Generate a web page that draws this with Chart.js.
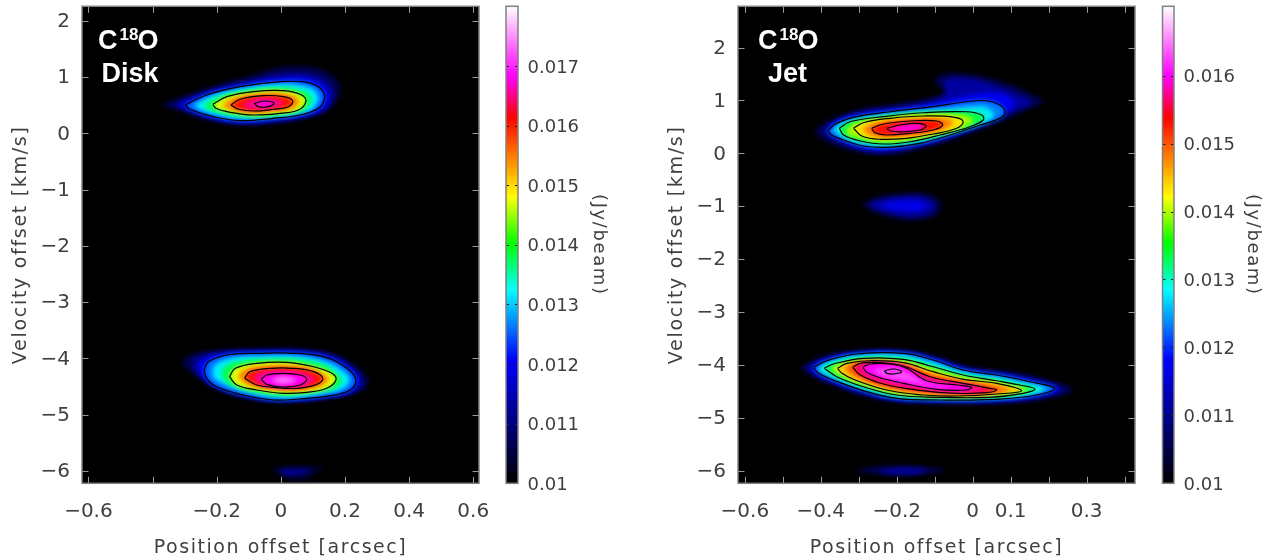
<!DOCTYPE html>
<html><head><meta charset="utf-8">
<script src="https://cdn.jsdelivr.net/npm/chart.js@4/dist/chart.umd.js"></script>
<style>html,body{margin:0;padding:0;background:#fff;overflow:hidden}canvas{position:absolute;top:0}</style>
</head><body>
<canvas id="pvDisk" style="left:0"></canvas>
<canvas id="barDisk" style="left:495px"></canvas>
<canvas id="pvJet" style="left:656px"></canvas>
<canvas id="barJet" style="left:1152px"></canvas>
<script>
// ---- axes
const diskXTicks=[-0.6,-0.4,-0.2,0,0.2,0.4,0.6];
const diskXLabels=['\u22120.6','','\u22120.2','0','0.2','0.4','0.6'];
const jetXTicks=[-0.6,-0.5,-0.4,-0.3,-0.2,-0.1,0,0.1,0.2,0.3,0.4];
const jetXLabels=['\u22120.6','','\u22120.4','','\u22120.2','','0','0.1','','0.3',''];
const velTicks=[2,1,0,-1,-2,-3,-4,-5,-6];
const velLabels=['2','1','0','\u22121','\u22122','\u22123','\u22124','\u22125','\u22126'];
const diskBarTicks=[0.01,0.011,0.012,0.013,0.014,0.015,0.016,0.017];
const diskBarLabels=['0.01','0.011','0.012','0.013','0.014','0.015','0.016','0.017'];
const jetBarTicks=[0.01,0.011,0.012,0.013,0.014,0.015,0.016];
const jetBarLabels=['0.01','0.011','0.012','0.013','0.014','0.015','0.016'];

// ---- iso-intensity outlines, [position offset, velocity offset], outermost first
const diskUpper=[
[[-.376,.507],[-.231,.804],[-.085,1.041],[.008,1.178],[.112,1.160],[.175,.952],[.182,.715],[.154,.448],[.081,.270],[-.023,.169],[-.127,.151],[-.231,.240],[-.324,.418]],
[[-.340,.507],[-.231,.744],[-.085,.952],[.008,1.059],[.102,1.041],[.154,.863],[.164,.655],[.138,.418],[.070,.299],[-.023,.217],[-.127,.187],[-.220,.270],[-.304,.431]],
[[-.320,.507],[-.231,.712],[-.105,.890],[.004,.988],[.091,.970],[.138,.827],[.150,.640],[.129,.436],[.066,.311],[-.024,.240],[-.127,.205],[-.214,.285],[-.292,.436]],
[[-.298,.507],[-.231,.685],[-.127,.833],[-.002,.922],[.081,.911],[.123,.804],[.136,.626],[.117,.448],[.060,.329],[-.024,.270],[-.127,.228],[-.211,.299],[-.283,.431]],
[[-.270,.514],[-.211,.676],[-.111,.804],[.001,.875],[.076,.838],[.107,.749],[.116,.607],[.098,.436],[.057,.356],[-.018,.294],[-.111,.262],[-.189,.324],[-.255,.436]],
[[-.242,.516],[-.189,.667],[-.099,.774],[.004,.819],[.070,.765],[.091,.685],[.098,.587],[.076,.427],[.055,.383],[-.012,.320],[-.099,.294],[-.174,.347],[-.230,.440]],
[[-.212,.520],[-.168,.655],[-.085,.744],[.008,.762],[.065,.685],[.078,.566],[.055,.418],[-.002,.359],[-.085,.329],[-.158,.377],[-.202,.448]],
[[-.183,.512],[-.149,.632],[-.071,.708],[.007,.712],[.051,.635],[.057,.525],[.029,.427],[-.015,.395],[-.086,.365],[-.146,.404],[-.171,.448]],
[[-.156,.507],[-.127,.609],[-.054,.673],[.008,.655],[.037,.584],[.024,.477],[-.023,.431],[-.085,.400],[-.132,.431]],
[[-.121,.516],[-.089,.596],[-.052,.625],[-.005,.596],[.007,.543],[-.008,.472],[-.046,.454],[-.080,.436],[-.105,.454]],
[[-.083,.537],[-.049,.578],[-.021,.537],[-.039,.477],[-.070,.477]]
];
const diskLower=[
[[-.309,-4.089],[-.283,-3.941],[-.200,-3.852],[-.075,-3.822],[.081,-3.834],[.175,-3.941],[.237,-4.149],[.273,-4.416],[.247,-4.594],[.154,-4.712],[.008,-4.772],[-.117,-4.712],[-.210,-4.505],[-.272,-4.297]],
[[-.277,-4.119],[-.262,-3.989],[-.189,-3.893],[-.075,-3.865],[.065,-3.870],[.159,-3.959],[.221,-4.160],[.256,-4.404],[.232,-4.578],[.154,-4.689],[.029,-4.760],[-.096,-4.701],[-.205,-4.505],[-.257,-4.285]],
[[-.258,-4.164],[-.244,-4.025],[-.180,-3.918],[-.075,-3.888],[.057,-3.891],[.151,-3.973],[.213,-4.169],[.244,-4.395],[.224,-4.573],[.154,-4.677],[.045,-4.742],[-.033,-4.733],[-.203,-4.505],[-.245,-4.320]],
[[-.239,-4.208],[-.226,-4.060],[-.168,-3.941],[-.075,-3.911],[.050,-3.911],[.143,-3.989],[.206,-4.178],[.234,-4.386],[.216,-4.564],[.154,-4.665],[.060,-4.724],[-.023,-4.742],[-.117,-4.653],[-.200,-4.505],[-.231,-4.356]],
[[-.214,-4.244],[-.202,-4.100],[-.149,-3.993],[-.074,-3.968],[.038,-3.964],[.129,-4.048],[.191,-4.217],[.214,-4.386],[.191,-4.546],[.138,-4.617],[.066,-4.680],[-.008,-4.698],[-.102,-4.609],[-.177,-4.458],[-.208,-4.350]],
[[-.186,-4.297],[-.174,-4.137],[-.118,-4.039],[-.027,-4.009],[.060,-4.021],[.141,-4.128],[.179,-4.297],[.193,-4.386],[.169,-4.537],[.107,-4.608],[.048,-4.653],[-.002,-4.662],[-.089,-4.591],[-.158,-4.475],[-.180,-4.368]],
[[-.160,-4.327],[-.142,-4.178],[-.075,-4.089],[.019,-4.071],[.102,-4.150],[.159,-4.267],[.172,-4.386],[.143,-4.534],[.081,-4.605],[.008,-4.623],[-.075,-4.564],[-.137,-4.475]],
[[-.136,-4.342],[-.119,-4.208],[-.055,-4.134],[.029,-4.125],[.101,-4.190],[.144,-4.315],[.151,-4.368],[.127,-4.498],[.065,-4.569],[-.008,-4.569],[-.075,-4.520],[-.106,-4.475]],
[[-.113,-4.356],[-.096,-4.238],[-.033,-4.178],[.039,-4.178],[.102,-4.238],[.131,-4.356],[.112,-4.463],[.050,-4.534],[-.023,-4.516],[-.075,-4.475]],
[[-.087,-4.365],[-.071,-4.267],[-.012,-4.222],[.050,-4.238],[.091,-4.302],[.106,-4.365],[.086,-4.470],[.055,-4.511],[-.007,-4.514],[-.059,-4.475]],
[[-.061,-4.374],[-.044,-4.297],[.008,-4.267],[.060,-4.297],[.081,-4.374],[.060,-4.475],[.008,-4.511],[-.044,-4.463]],
[[-.033,-4.386],[.007,-4.324],[.048,-4.386],[.007,-4.457]]
];
const diskFaint=[
[[-.039,-5.957],[.008,-5.916],[.060,-5.904],[.138,-5.957],[.102,-6.076],[.081,-6.178],[.029,-6.165],[-.002,-6.076]],
[[-.012,-5.989],[.045,-5.961],[.098,-5.989],[.060,-6.076],[.013,-6.076]]
];
const jetUpper=[
[[-.419,.427],[-.384,.597],[-.305,.819],[-.191,.945],[-.104,1.070],[-.077,1.164],[-.099,1.354],[-.077,1.499],[.002,1.482],[.090,1.323],[.159,1.102],[.186,.975],[.142,.819],[.072,.597],[-.016,.346],[-.121,.113],[-.235,-.032],[-.323,.062],[-.393,.251]],
[[-.397,.427],[-.367,.597],[-.301,.767],[-.191,.880],[-.104,.994],[-.069,1.134],[-.077,1.323],[-.060,1.418],[.002,1.399],[.072,1.248],[.133,1.070],[.155,.957],[.116,.819],[.063,.643],[-.016,.408],[-.121,.176],[-.235,.019],[-.309,.095],[-.375,.284]],
[[-.386,.427],[-.362,.586],[-.301,.737],[-.191,.837],[-.104,.945],[-.033,1.059],[.019,1.134],[.072,1.134],[.107,1.008],[.107,.881],[.072,.724],[-.016,.454],[-.121,.200],[-.231,.062],[-.296,.113],[-.358,.302]],
[[-.382,.427],[-.358,.567],[-.305,.692],[-.217,.786],[-.104,.881],[-.016,.975],[.037,.994],[.072,.913],[.085,.786],[.072,.662],[.019,.535],[-.060,.346],[-.139,.189],[-.226,.113],[-.288,.138],[-.340,.251],[-.371,.346]],
[[-.367,.450],[-.341,.582],[-.270,.692],[-.175,.777],[-.060,.834],[.008,.881],[.032,.875],[.048,.809],[.056,.761],[.048,.644],[.006,.520],[-.073,.346],[-.152,.204],[-.231,.142],[-.293,.185],[-.341,.298]],
[[-.351,.473],[-.323,.597],[-.235,.692],[-.130,.767],[-.016,.786],[.024,.724],[.028,.629],[-.007,.503],[-.086,.346],[-.165,.219],[-.235,.176],[-.296,.233],[-.340,.346]],
[[-.333,.473],[-.304,.592],[-.225,.677],[-.131,.737],[-.031,.733],[-.002,.667],[.001,.592],[-.026,.488],[-.097,.355],[-.170,.251],[-.238,.219],[-.294,.280],[-.328,.346]],
[[-.314,.473],[-.288,.578],[-.217,.662],[-.130,.705],[-.047,.681],[-.025,.597],[-.042,.473],[-.104,.365],[-.174,.284],[-.244,.265],[-.292,.327]],
[[-.290,.473],[-.262,.569],[-.191,.637],[-.112,.658],[-.062,.645],[-.052,.573],[-.068,.478],[-.104,.403],[-.170,.331],[-.236,.308],[-.275,.355]],
[[-.266,.473],[-.235,.554],[-.165,.611],[-.095,.611],[-.079,.535],[-.104,.440],[-.165,.378],[-.226,.346],[-.257,.389]],
[[-.226,.473],[-.191,.535],[-.147,.567],[-.123,.516],[-.139,.440],[-.182,.408],[-.217,.422]],
[[-.202,.469],[-.165,.507],[-.141,.497],[-.160,.450],[-.191,.440]]
];
const jetMiddle=[
[[-.292,-.958],[-.261,-.851],[-.200,-.756],[-.121,-.756],[-.082,-.945],[-.095,-1.166],[-.147,-1.274],[-.209,-1.229],[-.270,-1.085]],
[[-.275,-.958],[-.244,-.870],[-.191,-.820],[-.130,-.820],[-.099,-.958],[-.108,-1.123],[-.152,-1.199],[-.204,-1.166],[-.257,-1.059]],
[[-.244,-.977],[-.200,-.896],[-.147,-.896],[-.121,-.977],[-.139,-1.085],[-.191,-1.085],[-.226,-1.040]]
];
const jetLower=[
[[-.454,-4.034],[-.402,-3.845],[-.305,-3.731],[-.182,-3.718],[-.095,-3.845],[-.007,-4.034],[.098,-4.129],[.186,-4.253],[.263,-4.474],[.203,-4.631],[.080,-4.726],[-.086,-4.726],[-.209,-4.695],[-.296,-4.569],[-.384,-4.348],[-.437,-4.159]],
[[-.437,-4.045],[-.393,-3.883],[-.305,-3.756],[-.182,-3.750],[-.099,-3.875],[-.016,-4.064],[.080,-4.159],[.168,-4.285],[.238,-4.461],[.186,-4.600],[.072,-4.695],[-.086,-4.701],[-.204,-4.669],[-.288,-4.537],[-.375,-4.317],[-.421,-4.159]],
[[-.428,-4.045],[-.388,-3.902],[-.305,-3.775],[-.182,-3.766],[-.102,-3.888],[-.020,-4.080],[.072,-4.175],[.159,-4.302],[.227,-4.451],[.177,-4.584],[.066,-4.672],[-.086,-4.682],[-.202,-4.650],[-.284,-4.523],[-.371,-4.302],[-.414,-4.159]],
[[-.419,-4.045],[-.384,-3.921],[-.305,-3.794],[-.182,-3.781],[-.104,-3.907],[-.025,-4.096],[.063,-4.191],[.151,-4.318],[.216,-4.442],[.168,-4.569],[.063,-4.650],[-.086,-4.663],[-.200,-4.631],[-.279,-4.507],[-.367,-4.285],[-.406,-4.159]],
[[-.405,-4.062],[-.376,-3.943],[-.297,-3.832],[-.182,-3.837],[-.104,-3.969],[-.025,-4.143],[.063,-4.243],[.138,-4.348],[.190,-4.450],[.151,-4.554],[.053,-4.631],[-.092,-4.638],[-.200,-4.600],[-.283,-4.455],[-.362,-4.253],[-.396,-4.134]],
[[-.391,-4.064],[-.367,-3.983],[-.288,-3.875],[-.182,-3.894],[-.104,-4.034],[-.025,-4.191],[.063,-4.299],[.124,-4.380],[.164,-4.455],[.133,-4.537],[.045,-4.612],[-.095,-4.612],[-.200,-4.569],[-.288,-4.412],[-.358,-4.223]],
[[-.374,-4.064],[-.349,-3.976],[-.279,-3.898],[-.182,-3.926],[-.104,-4.081],[-.025,-4.233],[.063,-4.324],[.127,-4.434],[.145,-4.474],[.098,-4.544],[.001,-4.601],[-.112,-4.592],[-.212,-4.522],[-.301,-4.342],[-.351,-4.191]],
[[-.356,-4.064],[-.331,-3.970],[-.270,-3.921],[-.182,-3.958],[-.104,-4.128],[-.025,-4.272],[.063,-4.348],[.129,-4.488],[.063,-4.550],[-.042,-4.588],[-.130,-4.569],[-.226,-4.475],[-.314,-4.272],[-.344,-4.159]],
[[-.336,-4.055],[-.314,-3.970],[-.257,-3.939],[-.182,-3.989],[-.108,-4.176],[-.025,-4.310],[.054,-4.395],[.095,-4.480],[.050,-4.537],[-.042,-4.563],[-.139,-4.522],[-.231,-4.418],[-.305,-4.233],[-.330,-4.115]],
[[-.316,-4.045],[-.296,-3.970],[-.244,-3.958],[-.182,-4.021],[-.112,-4.223],[-.025,-4.348],[.045,-4.442],[.063,-4.474],[.037,-4.525],[-.042,-4.537],[-.147,-4.475],[-.235,-4.361],[-.296,-4.191]],
[[-.302,-4.045],[-.283,-3.977],[-.231,-3.970],[-.178,-4.040],[-.117,-4.261],[-.033,-4.365],[.022,-4.433],[.024,-4.493],[-.054,-4.506],[-.165,-4.412],[-.241,-4.299],[-.288,-4.167]],
[[-.289,-4.045],[-.270,-3.983],[-.217,-3.983],[-.174,-4.064],[-.121,-4.299],[-.042,-4.380],[-.003,-4.424],[-.016,-4.474],[-.095,-4.461],[-.182,-4.348],[-.248,-4.234],[-.279,-4.140]],
[[-.265,-4.096],[-.212,-4.058],[-.170,-4.153],[-.125,-4.339],[-.060,-4.414],[-.099,-4.414],[-.178,-4.301],[-.231,-4.226]],
[[-.233,-4.115],[-.209,-4.077],[-.187,-4.128],[-.209,-4.172],[-.226,-4.159]]
];
const jetFaint=[
[[-.314,-5.987],[-.252,-5.924],[-.182,-5.904],[-.112,-5.935],[-.073,-6.000],[-.112,-6.049],[-.182,-6.100],[-.252,-6.062]],
[[-.244,-5.993],[-.183,-5.949],[-.125,-5.977],[-.125,-6.025],[-.183,-6.062],[-.244,-6.034]]
];

// ---- styling of the outlines
const diskUpperColours=['#000050','#0000a0','#0000f0','#0070ff','#00f0ff','#00ff50','#e0ff00','#ff9000','#ff1000','#ff0090','#ff00e0'];
const diskLowerColours=['#000050','#0000a0','#0000f0','#0070ff','#00f0ff','#00ff50','#e8ff00','#ff9000','#ff1000','#ff0090','#ff00f0','#ff70ff'];
const diskFaintColours=['#00002a','#000090'];
const jetUpperColours=['#000050','#0000a0','#0000f0','#0080ff','#00f0f0','#00ff40','#a0ff00','#ffe000','#ff8000','#ff0a00','#ff00c0','#ff00ff'];
const jetMiddleColours=['#000040','#0000a0','#0000e8'];
const jetLowerColours=['#000050','#0000a0','#0000f0','#0090ff','#00ffe0','#00ff40','#c0ff00','#ffc000','#ff6000','#ff0040','#ff00a0','#ff00ff','#ff50ff','#ff30ff'];
const jetFaintColours=['#000050','#0000a0'];
const diskUpperContours=[3,6,8,10], diskLowerContours=[3,6,8,10], jetUpperContours=[3,5,7,9,10], jetLowerContours=[3,5,7,9,11,13];
const colourStops=[[0,'#000000'],[.26,'#0000ff'],[.405,'#00ffff'],[.503,'#00ff00'],[.6,'#ffff00'],[.767,'#ff0000'],[.855,'#ff00ff'],[1,'#ffffff']];

const TEXT='#404040', FRAME='#808080', FONT="'DejaVu Sans'", BLUR='blur(2px)';
let ord=0;
const closed=p=>p.concat([p[0]]).map(([x,y])=>({x,y}));
function tune(s,sp){
  s.getPadding=()=>({left:0,top:0,right:0,bottom:0});
  s.paddingLeft=s.paddingRight=s.paddingTop=s.paddingBottom=0;
  if(s.$spaced)return;s.$spaced=true;
  const d=s.drawTitle;s.drawTitle=function(...a){this.ctx.save();this.ctx.letterSpacing=sp;d.apply(this,a);this.ctx.restore();};
}
function blob(levels,colours,contours){
  const out=levels.map((p,i)=>({data:closed(p),showLine:true,fill:'shape',backgroundColor:colours[i],borderWidth:0,pointRadius:0,tension:.4,order:-(++ord)}));
  (contours||[]).forEach(i=>out.push({data:closed(levels[i]),showLine:true,fill:false,borderColor:'#000',borderWidth:1.2,pointRadius:0,tension:.4,order:-100000-i}));
  return out;
}
const surface={id:'surface',
  beforeDatasetsDraw(c){const a=c.chartArea;c.ctx.save();c.ctx.fillStyle='#000';c.ctx.fillRect(a.left,a.top,a.width,a.height);c.ctx.filter=BLUR;},
  beforeDatasetDraw(c){c.ctx.filter='none';},
  afterDatasetDraw(c){c.ctx.filter=BLUR;},
  afterDatasetsDraw(c){c.ctx.filter='none';c.ctx.restore();}
};
const frame={id:'frame',afterDraw(c,_,o){
  const a=c.chartArea,x=c.ctx;x.save();
  x.lineWidth=1;x.strokeStyle=o.tick;x.beginPath();
  if(c.scales.x&&o.xTicks)c.scales.x.ticks.forEach(t=>{const p=Math.round(c.scales.x.getPixelForValue(t.value))+.5;x.moveTo(p,a.bottom);x.lineTo(p,a.bottom-o.len);x.moveTo(p,a.top);x.lineTo(p,a.top+o.len);});
  c.scales.y.ticks.forEach(t=>{const p=Math.round(c.scales.y.getPixelForValue(t.value))+.5;x.moveTo(a.left,p);x.lineTo(a.left+o.len,p);x.moveTo(a.right,p);x.lineTo(a.right-o.len,p);});
  x.stroke();
  x.strokeStyle=FRAME;x.lineWidth=1.5;x.strokeRect(a.left,a.top,a.width,a.height);
  x.restore();
}};
const caption={id:'caption',afterDraw(c,_,o){
  const a=c.chartArea,x=c.ctx;x.save();x.fillStyle='#fff';x.textBaseline='alphabetic';
  x.font="bold 27px 'Liberation Sans'";
  x.fillText('C',a.left+o.cx,49);
  x.fillText('O',a.left+o.cx+39.5,49);
  x.font="bold 17px 'Liberation Sans'";
  x.fillText('18',a.left+o.cx+21.5,40);
  x.font="bold 27px 'Liberation Sans'";
  x.fillText(o.name,a.left+o.nx,82);
  x.restore();
}};
function panel(id,width,xMin,xMax,yMin,yMax,xTicks,xLabels,datasets,cap){
  const cv=document.getElementById(id);cv.width=width;cv.height=559;cv.style.width=width+'px';cv.style.height='559px';
  return new Chart(cv,{type:'scatter',data:{datasets},plugins:[surface,frame,caption],options:{
    responsive:false,animation:false,events:[],
    layout:{autoPadding:false,padding:{top:6.3,right:21,left:0,bottom:0}},
    plugins:{legend:{display:false},tooltip:{enabled:false},frame:{len:6.5,tick:'#9a9a9a',xTicks:true},caption:cap,filler:{propagate:false}},
    scales:{
      x:{type:'linear',min:xMin,max:xMax,afterBuildTicks:s=>{s.ticks=xTicks.map(value=>({value}));},afterFit:s=>{s.height=75.7;tune(s,'1.55px');},
        grid:{display:false,drawTicks:false},border:{display:false},
        ticks:{callback:(v,i)=>xLabels[i],autoSkip:false,maxRotation:0,minRotation:0,padding:16,color:TEXT,font:{family:FONT,size:20}},
        title:{display:true,text:'Position offset [arcsec]',color:TEXT,font:{family:FONT,size:19},padding:{top:3,bottom:0}}},
      y:{type:'linear',min:yMin,max:yMax,afterBuildTicks:s=>{s.ticks=velTicks.map(value=>({value}));},afterFit:s=>{s.width=82;tune(s,'1.7px');},
        grid:{display:false,drawTicks:false},border:{display:false},
        ticks:{callback:(v,i)=>velLabels[i],autoSkip:false,padding:12,labelOffset:1,color:TEXT,font:{family:FONT,size:20}},
        title:{display:true,text:'Velocity offset [km/s]',color:TEXT,font:{family:FONT,size:19},padding:{top:10,bottom:0}}}
    }}});
}
function colourBar(id,width,leftPad,axisWidth,top,ticks,labels){
  const cv=document.getElementById(id);cv.width=width;cv.height=559;cv.style.width=width+'px';cv.style.height='559px';
  return new Chart(cv,{type:'bar',data:{labels:[''],datasets:[{data:[[0.01,top]],barPercentage:1,categoryPercentage:1,borderWidth:0,
    backgroundColor(ctx){const a=ctx.chart.chartArea;if(!a)return '#000';const g=ctx.chart.ctx.createLinearGradient(0,a.bottom,0,a.top);colourStops.forEach(([f,c])=>g.addColorStop(f,c));return g;}}]},
    plugins:[frame],options:{responsive:false,animation:false,events:[],
    layout:{autoPadding:false,padding:{top:6.3,left:leftPad,right:0,bottom:75.7}},
    plugins:{legend:{display:false},tooltip:{enabled:false},frame:{len:3,tick:'#222',xTicks:false}},
    scales:{x:{display:false},
      y:{position:'right',min:0.01,max:top,afterBuildTicks:s=>{s.ticks=ticks.map(value=>({value}));},afterFit:s=>{s.width=axisWidth;tune(s,'1.6px');},
        grid:{display:false,drawTicks:false},border:{display:false},
        ticks:{callback:(v,i)=>labels[i],autoSkip:false,padding:9.5,labelOffset:2,color:TEXT,font:{family:FONT,size:18}},
        title:{display:true,text:'(Jy/beam)',color:TEXT,font:{family:FONT,size:18},padding:{top:1,bottom:0}}}
    }}});
}
panel('pvDisk',500,-0.62,0.618,-6.224,2.263,diskXTicks,diskXLabels,
  [...blob(diskFaint,diskFaintColours),...blob(diskUpper,diskUpperColours,diskUpperContours),...blob(diskLower,diskLowerColours,diskLowerContours)],{cx:16,nx:19.5,name:'Disk'});
panel('pvJet',500,-0.618,0.4275,-6.238,2.779,jetXTicks,jetXLabels,
  [...blob(jetFaint,jetFaintColours),...blob(jetMiddle,jetMiddleColours),...blob(jetUpper,jetUpperColours,jetUpperContours),...blob(jetLower,jetLowerColours,jetLowerContours)],{cx:20,nx:30,name:'Jet'});
colourBar('barDisk',115,11,92,0.018,diskBarTicks,diskBarLabels);
colourBar('barJet',112,10.5,90,0.01702,jetBarTicks,jetBarLabels);
</script>
</body></html>
